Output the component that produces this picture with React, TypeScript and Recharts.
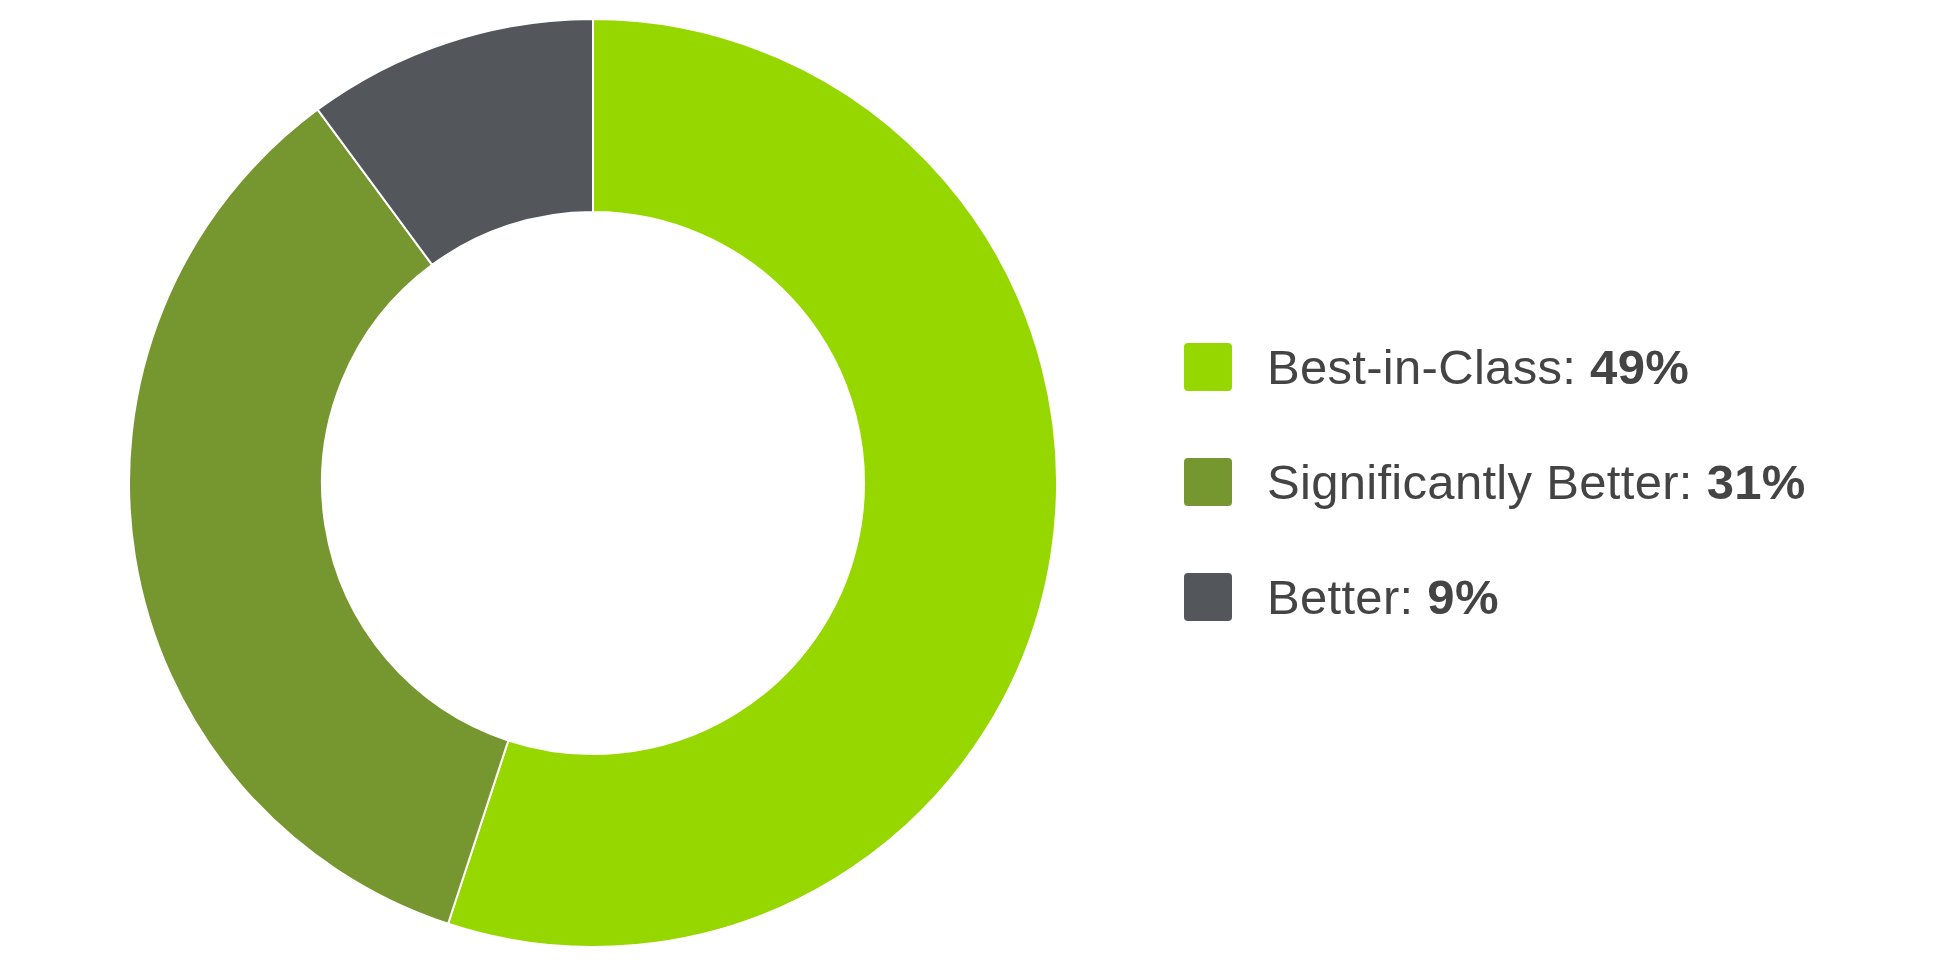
import React from "react";
import { PieChart, Pie, Cell, Legend } from "recharts";

const categories = ["Best-in-Class", "Significantly Better", "Better"];
const values = [49, 31, 9];
const colors = ["#97d700", "#76962f", "#53565a"];

const data = categories.map((name, i) => ({ name, value: values[i] }));

function LegendContent() {
  return (
    <div style={{ display: "flex", flexDirection: "column", gap: 67 }}>
      {data.map((d, i) => (
        <div key={d.name} style={{ display: "flex", alignItems: "center", height: 48 }}>
          <span
            style={{
              width: 48,
              height: 48,
              borderRadius: 4,
              background: colors[i],
              display: "inline-block",
              marginRight: 35,
              flexShrink: 0,
            }}
          />
          <span style={{ fontSize: 49, lineHeight: "48px", color: "#444", letterSpacing: 0.3, whiteSpace: "nowrap" }}>
            {d.name}: <b>{d.value}%</b>
          </span>
        </div>
      ))}
    </div>
  );
}

export default function App() {
  return (
    <div
      style={{
        position: "absolute",
        left: 0,
        top: 0,
        width: 1940,
        height: 974,
        background: "#fff",
        fontFamily: "'Liberation Sans', Arial, Helvetica, sans-serif",
      }}
    >
      <PieChart width={1940} height={974} margin={{ top: 0, right: 0, bottom: 0, left: 0 }}>
        <Pie
          data={data}
          dataKey="value"
          nameKey="name"
          cx={593}
          cy={483}
          innerRadius={271}
          outerRadius={464}
          startAngle={90}
          endAngle={-270}
          stroke="#fff"
          strokeWidth={2}
          isAnimationActive={false}
        >
          {data.map((d, i) => (
            <Cell key={d.name} fill={colors[i]} />
          ))}
        </Pie>
        <Legend
          content={<LegendContent />}
          wrapperStyle={{ left: 1184, top: 343, width: 740 }}
        />
      </PieChart>
    </div>
  );
}
